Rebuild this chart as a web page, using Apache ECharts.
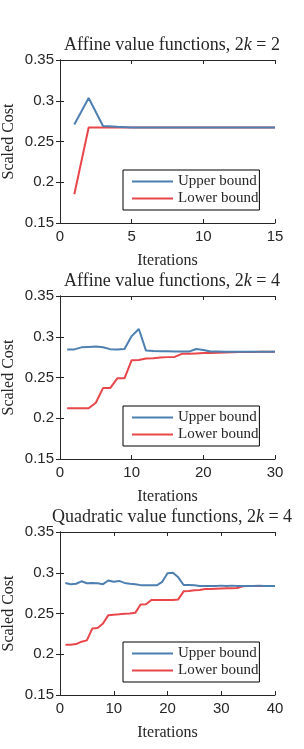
<!DOCTYPE html>
<html><head><meta charset="utf-8">
<script src="https://cdn.jsdelivr.net/npm/echarts@6/dist/echarts.min.js"></script>
<style>html,body{margin:0;padding:0;background:#fff}#c{width:304px;height:749px}</style>
</head><body><div id="c"></div>
<script>
// Panel 1: Affine value functions, 2k = 2
const upper1 = [0.2709,0.3033,0.269,0.268,0.2672,0.2672,0.2672,0.2672,0.2672,0.2672,0.2672,0.2672,0.2672,0.2672,0.2672];
const lower1 = [0.1852,0.2672,0.2672,0.2672,0.2672,0.2672,0.2672,0.2672,0.2672,0.2672,0.2672,0.2672,0.2672,0.2672,0.2672];
// Panel 2: Affine value functions, 2k = 4
const upper2 = [0.2845,0.2845,0.287,0.2875,0.288,0.287,0.2848,0.2845,0.285,0.3008,0.3095,0.283,0.2825,0.2822,0.2822,0.282,0.282,0.2818,0.285,0.2838,0.282,0.2818,0.2816,0.2815,0.2815,0.2815,0.2815,0.2815,0.2815,0.2815];
const lower2 = [0.2122,0.2122,0.2122,0.2122,0.219,0.237,0.237,0.249,0.249,0.2713,0.2715,0.2733,0.2735,0.2745,0.275,0.2753,0.279,0.279,0.2795,0.28,0.28,0.2803,0.2807,0.281,0.2812,0.2813,0.2814,0.2815,0.2815,0.2815];
// Panel 3: Quadratic value functions, 2k = 4
const upper3 = [0.2875,0.286,0.2865,0.2895,0.2872,0.2875,0.2872,0.286,0.2905,0.289,0.29,0.2875,0.2865,0.286,0.2848,0.2846,0.2846,0.2846,0.2887,0.2994,0.3,0.2944,0.285,0.285,0.2846,0.2838,0.2837,0.2837,0.2837,0.2842,0.2836,0.2842,0.2836,0.2837,0.2837,0.2837,0.2842,0.2837,0.2837,0.2837];
const lower3 = [0.2117,0.2117,0.2125,0.2154,0.217,0.2315,0.2323,0.2377,0.248,0.2485,0.249,0.2496,0.25,0.2508,0.2611,0.2613,0.2665,0.2665,0.2665,0.2666,0.2667,0.2673,0.2772,0.2776,0.2784,0.2788,0.28,0.28,0.2804,0.2808,0.281,0.281,0.2812,0.2833,0.2837,0.2837,0.2837,0.2837,0.2837,0.2837];

const titles = [
  ['Affine value functions, 2', ' = 2'],
  ['Affine value functions, 2', ' = 4'],
  ['Quadratic value functions, 2', ' = 4']
];
const xMax = [15, 30, 40];
const xStep = [5, 10, 10];
const seriesNames = ['Upper bound', 'Lower bound'];
const panels = [[upper1, lower1], [upper2, lower2], [upper3, lower3]];

const tops = [60, 296, 532];
const gridH = 163;
const axisColor = '#262626';
const serif = '"Liberation Serif", "DejaVu Serif", serif';
const sans = '"Liberation Sans", Arial, sans-serif';
const colors = ['#4d7fb1', '#e8464b'];

const chart = echarts.init(document.getElementById('c'), null, {renderer: 'canvas'});
const opt = {
  animation: false,
  backgroundColor: '#fff',
  title: [], grid: [], xAxis: [], yAxis: [], series: [], legend: []
};
panels.forEach((p, i) => {
  opt.title.push({
    text: '{a|' + titles[i][0] + '}{k|k}{a|' + titles[i][1] + '}',
    left: 167, textAlign: 'center', top: tops[i] - 29,
    textStyle: { fontWeight: 'normal', rich: {
      a: {fontFamily: serif, fontSize: 18, fontWeight: 'normal', color: axisColor},
      k: {fontFamily: serif, fontSize: 18, fontWeight: 'normal', fontStyle: 'italic', color: axisColor}
    }}
  });
  opt.grid.push({left: 60, top: tops[i], width: 215, height: gridH, containLabel: false, outerBoundsMode: 'none'});
  const axLine = {show: true, lineStyle: {color: axisColor, width: 1}};
  const tick = {show: true, inside: true, length: 4, lineStyle: {color: axisColor}};
  opt.xAxis.push({
    type: 'value', gridIndex: i, min: 0, max: xMax[i], interval: xStep[i],
    axisLine: axLine, axisTick: tick, splitLine: {show: false},
    axisLabel: {fontFamily: sans, fontSize: 15, color: axisColor, margin: 6},
    name: 'Iterations', nameLocation: 'middle', nameGap: 30, nameMoveOverlap: false,
    nameTextStyle: {fontFamily: serif, fontSize: 16, color: axisColor}
  });
  opt.xAxis.push({
    type: 'value', gridIndex: i, position: 'top', min: 0, max: xMax[i], interval: xStep[i],
    axisLine: axLine, axisTick: tick, axisLabel: {show: false}, splitLine: {show: false}
  });
  opt.yAxis.push({
    type: 'value', gridIndex: i, min: 0.15, max: 0.35, interval: 0.05,
    axisLine: axLine, axisTick: tick, splitLine: {show: false},
    axisLabel: {fontFamily: sans, fontSize: 15, color: axisColor, margin: 6,
      formatter: v => String(Math.round(v * 100) / 100)},
    name: 'Scaled Cost', nameLocation: 'middle', nameGap: 43, nameRotate: 90, nameMoveOverlap: false,
    nameTextStyle: {fontFamily: serif, fontSize: 16, color: axisColor}
  });
  opt.yAxis.push({
    type: 'value', gridIndex: i, position: 'right', min: 0.15, max: 0.35, interval: 0.05,
    axisLine: axLine, axisTick: tick, axisLabel: {show: false}, splitLine: {show: false}
  });
  p.forEach((arr, s) => {
    opt.series.push({
      name: seriesNames[s], type: 'line', xAxisIndex: 2 * i, yAxisIndex: 2 * i,
      data: arr.map((v, k) => [k + 1, v]),
      showSymbol: false, symbol: 'none',
      lineStyle: {color: colors[s], width: 2}, itemStyle: {color: colors[s]},
      z: s === 0 ? 3 : 2
    });
  });
  opt.legend.push({
    data: seriesNames.map(n => ({name: n, icon: 'rect'})), orient: 'vertical', left: 123, top: tops[i] + 110,
    itemWidth: 41, itemHeight: 2, itemGap: 0,
    padding: [3, 1, 3, 9], borderColor: '#000', borderWidth: 1, backgroundColor: '#fff',
    textStyle: {fontFamily: serif, fontSize: 15, color: axisColor, lineHeight: 17, height: 17}, selectedMode: false
  });
});
chart.setOption(opt);
</script></body></html>
